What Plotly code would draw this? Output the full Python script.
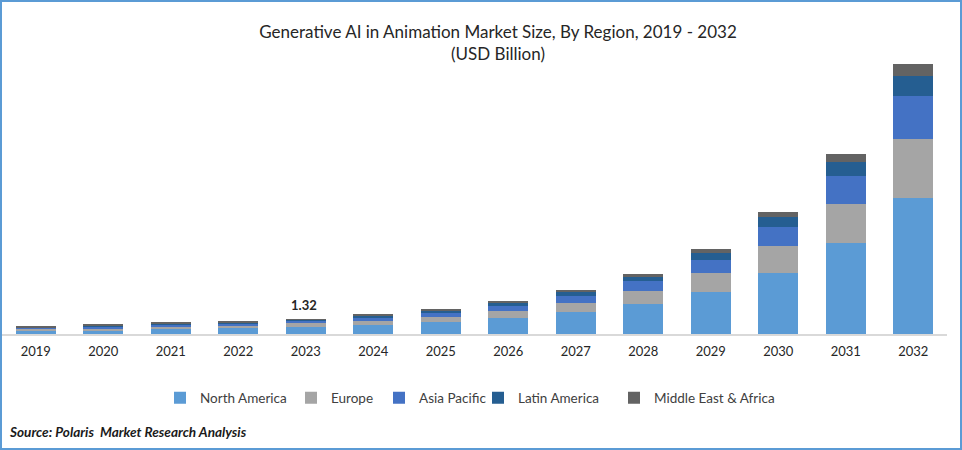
import plotly.graph_objects as go

years = ["2019","2020","2021","2022","2023","2024","2025","2026","2027","2028","2029","2030","2031","2032"]
north_america = [0.27,0.35,0.44,0.53,0.62,0.80,1.06,1.41,1.94,2.64,3.70,5.37,8.03,11.97]
europe = [0.17,0.17,0.18,0.26,0.35,0.35,0.44,0.62,0.79,1.14,1.67,2.38,3.43,5.19]
asia_pacific = [0.11,0.13,0.18,0.10,0.18,0.26,0.35,0.44,0.62,0.88,1.14,1.67,2.46,3.78]
latin_america = [0.06,0.09,0.09,0.10,0.09,0.18,0.18,0.26,0.35,0.35,0.62,0.88,1.23,1.76]
middle_east_africa = [0.09,0.06,0.09,0.09,0.08,0.09,0.09,0.09,0.18,0.26,0.35,0.44,0.70,1.06]
labelled_year = "2023"
labelled_total = "1.32"

series = [
    ("North America", north_america, "#5B9BD5"),
    ("Europe", europe, "#A5A5A5"),
    ("Asia Pacific", asia_pacific, "#4472C4"),
    ("Latin America", latin_america, "#255E91"),
    ("Middle East & Africa", middle_east_africa, "#636363"),
]
legend_ids = ["legend", "legend2", "legend3", "legend4", "legend5"]
legend_left_px = [160, 291, 379, 478, 614]

W, H, L, R, T, B = 962, 450, 2, 15, 50, 116
PW, PH = W - L - R, H - T - B
def px(x): return (x - L) / PW
def py(y): return (H - B - y) / PH

FONT = "Lato, Carlito, sans-serif"
fig = go.Figure()
for (name, vals, col), lid in zip(series, legend_ids):
    fig.add_trace(go.Bar(name=name, x=years, y=vals, legend=lid,
                         marker=dict(color=col, line=dict(width=0))))

i = years.index(labelled_year)
top = sum(s[1][i] for s in series)

legends = {lid: dict(x=px(x0), xanchor="left", y=py(398), yanchor="middle", orientation="h",
                     bgcolor="rgba(0,0,0,0)",
                     font=dict(family=FONT, size=13.5, color="#404040"))
           for lid, x0 in zip(legend_ids, legend_left_px)}

fig.update_layout(
    width=W, height=H, autosize=False,
    paper_bgcolor="white", plot_bgcolor="white",
    barmode="stack", bargap=0.41,
    margin=dict(l=L, r=R, t=T, b=B, autoexpand=False),
    font=dict(family=FONT, size=13, color="#262626"),
    title=dict(text="Generative AI in Animation Market Size, By Region, 2019 - 2032<br>(USD Billion)",
               xref="paper", x=px(498), xanchor="center", y=1 - 38 / H, yanchor="top",
               font=dict(family=FONT, size=17, color="#262626")),
    xaxis=dict(type="category", categoryorder="array", categoryarray=years, range=[-0.5, 13.5],
               showline=True, linecolor="#D9D9D9", linewidth=2, ticks="", showgrid=False,
               ticklabelstandoff=4, tickfont=dict(family=FONT, size=13, color="#262626")),
    yaxis=dict(visible=False, range=[0, 25], showgrid=False),
    showlegend=True,
    shapes=[dict(type="rect", xref="paper", yref="paper", layer="above",
                 x0=px(1), x1=px(961), y0=py(449), y1=py(1),
                 line=dict(color="#5B9BD5", width=2), fillcolor="rgba(0,0,0,0)")],
    annotations=[
        dict(x=i, y=top, xref="x", yref="y", text=f"<b>{labelled_total}</b>", showarrow=False,
             yanchor="bottom", yshift=4, xshift=-2, font=dict(family=FONT, size=13, color="#262626")),
        dict(text="<b><i>Source: Polaris  Market Research Analysis</i></b>", xref="paper", yref="paper",
             x=px(7), y=py(432), xanchor="left", yanchor="middle", showarrow=False,
             font=dict(family=FONT, size=13.6, color="#1a1a1a")),
    ],
)
fig.update_layout(**legends)
fig.write_html("out.html", config={"displayModeBar": False},
               post_script="document.body.style.margin='0';")
